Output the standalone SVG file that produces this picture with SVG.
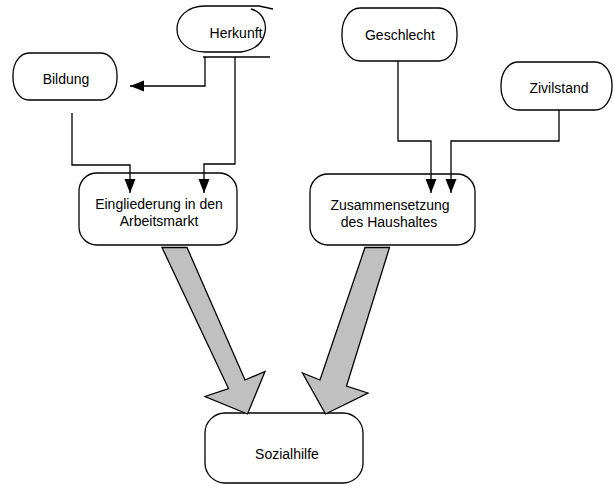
<svg xmlns="http://www.w3.org/2000/svg" width="614" height="486" viewBox="0 0 614 486">
  <style>
    .box { fill: #ffffff; stroke: #000000; stroke-width: 1.3; }
    .lbl { font-family: "Liberation Sans", Arial, sans-serif; font-size: 14px; fill: #000000; text-anchor: middle; }
    .wire { fill: none; stroke: #000000; stroke-width: 1.3; }
    .big { fill: #c0c0c0; stroke: #000000; stroke-width: 1.3; stroke-linejoin: miter; }
  </style>
  <defs>
    <marker id="tip" markerUnits="userSpaceOnUse" markerWidth="15" markerHeight="12" refX="14" refY="5.5" orient="auto">
      <path d="M0,0 L14,5.5 L0,11 z" fill="#000000"/>
    </marker>
  </defs>

  <rect width="614" height="486" fill="#ffffff"/>

  <g id="herkunft">
    <path class="wire" d="M205,6 C186,6 177,18 177,29 C177,42 188,52 205,52 H241"/>
    <path class="wire" d="M205,6 H259 L273,9"/>
    <path class="wire" d="M251,9 C262,12 267,22 265,32 C263,43 254,50 241,52"/>
    <text class="lbl" x="236" y="38">Herkunft</text>
  </g>

  <g id="bildung">
    <rect class="box" x="13" y="53" width="104" height="47" rx="16" ry="22"/>
    <text class="lbl" x="66" y="84">Bildung</text>
  </g>

  <g id="geschlecht">
    <rect class="box" x="342" y="8" width="115" height="53" rx="18" ry="25"/>
    <text class="lbl" x="400" y="40">Geschlecht</text>
  </g>

  <g id="zivilstand">
    <rect class="box" x="501" y="62" width="111" height="48" rx="17" ry="23"/>
    <text class="lbl" x="559" y="93">Zivilstand</text>
  </g>

  <g id="eingliederung">
    <rect class="box" x="79" y="173" width="158" height="72" rx="18" ry="18"/>
    <text class="lbl" x="159" y="209">Eingliederung in den</text>
    <text class="lbl" x="159" y="226">Arbeitsmarkt</text>
  </g>

  <g id="zusammensetzung">
    <rect class="box" x="310" y="174" width="165" height="71" rx="18" ry="18"/>
    <text class="lbl" x="390" y="210">Zusammensetzung</text>
    <text class="lbl" x="389" y="227">des Haushaltes</text>
  </g>

  <g id="sozialhilfe">
    <rect class="box" x="205" y="413" width="158" height="70" rx="20" ry="20"/>
    <text class="lbl" x="287" y="459">Sozialhilfe</text>
  </g>

  <!-- connectors drawn last so the arrowheads sit on top of the boxes -->
  <g id="connectors">
    <path class="wire" d="M203,57 H270"/>
    <path class="wire" d="M205,57 V86 H130" marker-end="url(#tip)"/>
    <path class="wire" d="M235,57 V164 H204 V193" marker-end="url(#tip)"/>
    <path class="wire" d="M72,113 V165 H130 V193" marker-end="url(#tip)"/>
    <path class="wire" d="M398,61 V141 H431 V193" marker-end="url(#tip)"/>
    <path class="wire" d="M559,110 V141 H451 V193" marker-end="url(#tip)"/>
    <!-- block arrows into Sozialhilfe -->
    <path class="big" d="M162,247.5 L187,247.5 L245,380 L265,371.5 L247.5,414 L205,396.5 L228.5,388.5 Z"/>
    <path class="big" d="M365,247.5 L389.5,247.5 L346.5,386 L368,393 L325.5,414 L302.5,373 L320,380 Z"/>
  </g>
</svg>
